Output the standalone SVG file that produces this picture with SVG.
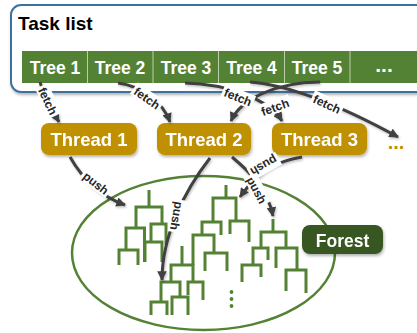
<svg xmlns="http://www.w3.org/2000/svg" width="417" height="333" viewBox="0 0 417 333">
<defs>
<filter id="sh" x="-20%" y="-20%" width="140%" height="160%">
<feDropShadow dx="1" dy="2" stdDeviation="1.5" flood-color="#000" flood-opacity="0.3"/>
</filter>
<filter id="shl" x="-20%" y="-20%" width="140%" height="140%">
<feDropShadow dx="1" dy="1.5" stdDeviation="1" flood-color="#000" flood-opacity="0.25"/>
</filter>
<marker id="ah" viewBox="0 0 10 10" refX="9" refY="5" markerWidth="3.4" markerHeight="3.2" orient="auto">
<path d="M0,0 L10,5 L0,10 z" fill="#404040"/>
</marker>
</defs>
<style>
text{font-family:"Liberation Sans",Arial,sans-serif;font-weight:bold}
.tt{fill:#fff;font-size:17.5px;text-anchor:middle}
.thr rect{fill:#bf9000}
.thr text{fill:#fff;font-size:18.5px;text-anchor:middle}
.conn path{fill:none;stroke:#404040;stroke-width:3;marker-end:url(#ah)}
.cl rect{fill:#fff}
.cl text{font-size:12px;fill:#262626;text-anchor:middle}
.tr path{fill:none;stroke:#548235;stroke-width:3}
.div{stroke:#b9cfa5;stroke-width:1}
</style>

<g id="task-list">
<rect x="11" y="5" width="430" height="87" rx="10" fill="#fff" stroke="#41719c" stroke-width="2" filter="url(#sh)"/>
<text x="18" y="30" font-size="19" fill="#000">Task list</text>
<rect x="22" y="51" width="400" height="32" fill="#548235"/>
<line class="div" x1="87.5" y1="51" x2="87.5" y2="83"/>
<line class="div" x1="153" y1="51" x2="153" y2="83"/>
<line class="div" x1="218.5" y1="51" x2="218.5" y2="83"/>
<line class="div" x1="284.5" y1="51" x2="284.5" y2="83"/>
<line class="div" x1="350" y1="51" x2="350" y2="83"/>
<text class="tt" x="55" y="74">Tree 1</text>
<text class="tt" x="120" y="74">Tree 2</text>
<text class="tt" x="186" y="74">Tree 3</text>
<text class="tt" x="251.5" y="74">Tree 4</text>
<text class="tt" x="317" y="74">Tree 5</text>
<text class="tt" x="384" y="72" style="font-size:21px">...</text>
</g>

<g id="thread-1" class="thr" filter="url(#sh)">
<rect x="41" y="123" width="96" height="32" rx="8"/>
<text x="89" y="146">Thread 1</text>
</g>
<g id="thread-2" class="thr" filter="url(#sh)">
<rect x="157" y="123" width="94" height="32" rx="8"/>
<text x="204" y="146">Thread 2</text>
</g>
<g id="thread-3" class="thr" filter="url(#sh)">
<rect x="272" y="123" width="95" height="32" rx="8"/>
<text x="319.5" y="146">Thread 3</text>
</g>
<g id="thread-more">
<text x="396" y="149" font-size="20" fill="#bf9000" text-anchor="middle">...</text>
</g>

<g id="forest-area">
<ellipse cx="203.5" cy="253" rx="131.5" ry="77" fill="none" stroke="#548235" stroke-width="2.5"/>
<g class="tr">
<path d="M149,190V207 M136,228V207H162V224 M126,250V228H144.5V262 M119,265V250H138V265 M151,242V224H166V245 M145,262V242H162V262"/>
<path d="M182,246V265 M171,282V265H193V282 M161,302V282H180V297 M151,315V302H167V315 M172,315V297H188V315 M188,295V282H203V300"/>
<path d="M226,185V198 M213,222V198H236V221 M230,234V221H249V242 M202,235V222H221V235 M193,265V235H214V253 M205,271V253H227V271"/>
<path d="M273,219V232 M261,248V232H286V248 M253,265V248H268V260 M242,282V265H261V277 M276,268V248H297V270 M286,291V270H306V293"/>
</g>
<circle cx="231.5" cy="292" r="1.9" fill="#548235"/>
<circle cx="231.5" cy="299" r="1.9" fill="#548235"/>
<circle cx="231.5" cy="306" r="1.9" fill="#548235"/>
</g>

<g id="forest" filter="url(#sh)">
<rect x="302" y="225" width="81" height="29" rx="8" fill="#385723"/>
<text x="342.5" y="246.5" font-size="17.5" fill="#fff" text-anchor="middle">Forest</text>
</g>

<g id="connectors">
<g class="conn" filter="url(#shl)">
<path d="M40,82 C44,98 52,110 59,122"/>
<path d="M118,83 C140,86 162,100 170,122"/>
<path d="M185,83 C225,84 268,98 282,121"/>
<path d="M250,82 C290,85 345,108 398,137"/>
<path d="M320,82 C275,82 240,100 231,121"/>
<path d="M70,157 C82,178 100,196 125,205"/>
<path d="M210,158 C185,190 162,235 162,280"/>
<path d="M232,157 C250,172 268,190 273,216"/>
<path d="M302,157 C285,160 262,165 240,197"/>
</g>
<g class="cl">
<g transform="translate(48,101) rotate(65)"><rect x="-16.5" y="-7.5" width="33" height="14"/><text y="4.5">fetch</text></g>
<g transform="translate(147,98) rotate(35)"><rect x="-16.5" y="-7.5" width="33" height="14"/><text y="4.5">fetch</text></g>
<g transform="translate(238,97) rotate(22)"><rect x="-16.5" y="-7.5" width="33" height="14"/><text y="4.5">fetch</text></g>
<g transform="translate(275,107) rotate(-20)"><rect x="-16.5" y="-7.5" width="33" height="14"/><text y="4.5">fetch</text></g>
<g transform="translate(327,104) rotate(25)"><rect x="-16.5" y="-7.5" width="33" height="14"/><text y="4.5">fetch</text></g>
<g transform="translate(96,183) rotate(38)"><rect x="-16.5" y="-7.5" width="33" height="14"/><text y="4.5">push</text></g>
<g transform="translate(177,216) rotate(100)"><rect x="-16.5" y="-7.5" width="33" height="14"/><text y="4.5">push</text></g>
<g transform="translate(257,190) rotate(62)"><rect x="-16.5" y="-7.5" width="33" height="14"/><text y="4.5">push</text></g>
<g transform="translate(264,166) rotate(150)"><rect x="-16.5" y="-7.5" width="33" height="14"/><text y="4.5">push</text></g>
</g>
</g>
</svg>
